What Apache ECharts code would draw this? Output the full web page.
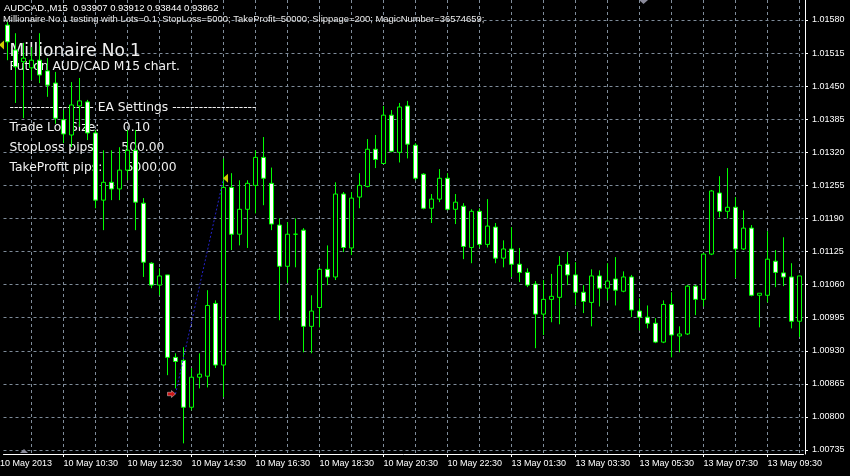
<!DOCTYPE html>
<html><head><meta charset="utf-8">
<script src="https://cdn.jsdelivr.net/npm/echarts@6/dist/echarts.min.js"></script>
<style>html,body{margin:0;padding:0;background:#000;overflow:hidden}#c{width:850px;height:476px}</style>
</head><body><div id="c"></div><script>
const categories = ['10 May 08:45','10 May 09:00','10 May 09:15','10 May 09:30','10 May 09:45','10 May 10:00','10 May 10:15','10 May 10:30','10 May 10:45','10 May 11:00','10 May 11:15','10 May 11:30','10 May 11:45','10 May 12:00','10 May 12:15','10 May 12:30','10 May 12:45','10 May 13:00','10 May 13:15','10 May 13:30','10 May 13:45','10 May 14:00','10 May 14:15','10 May 14:30','10 May 14:45','10 May 15:00','10 May 15:15','10 May 15:30','10 May 15:45','10 May 16:00','10 May 16:15','10 May 16:30','10 May 16:45','10 May 17:00','10 May 17:15','10 May 17:30','10 May 17:45','10 May 18:00','10 May 18:15','10 May 18:30','10 May 18:45','10 May 19:00','10 May 19:15','10 May 19:30','10 May 19:45','10 May 20:00','10 May 20:15','10 May 20:30','10 May 20:45','10 May 21:00','10 May 21:15','10 May 21:30','10 May 21:45','10 May 22:00','10 May 22:15','10 May 22:30','10 May 22:45','10 May 23:00','10 May 23:15','10 May 23:30','10 May 23:45','13 May 01:00','13 May 01:15','13 May 01:30','13 May 01:45','13 May 02:00','13 May 02:15','13 May 02:30','13 May 02:45','13 May 03:00','13 May 03:15','13 May 03:30','13 May 03:45','13 May 04:00','13 May 04:15','13 May 04:30','13 May 04:45','13 May 05:00','13 May 05:15','13 May 05:30','13 May 05:45','13 May 06:00','13 May 06:15','13 May 06:30','13 May 06:45','13 May 07:00','13 May 07:15','13 May 07:30','13 May 07:45','13 May 08:00','13 May 08:15','13 May 08:30','13 May 08:45','13 May 09:00','13 May 09:15','13 May 09:30','13 May 09:45','13 May 10:00','13 May 10:15','13 May 10:30'];

// [open, close, low, high]
const candles = [
[1.01570,1.01537,1.01501,1.01576],[1.01521,1.01488,1.01417,1.01554],[1.01498,1.01505,1.01387,1.01535],[1.01486,1.01501,1.01462,1.01527],
[1.01501,1.01472,1.01456,1.01554],[1.01480,1.01452,1.01429,1.01505],[1.01456,1.01387,1.01376,1.01478],[1.01384,1.01356,1.01338,1.01403],
[1.01354,1.01413,1.01330,1.01458],[1.01411,1.01421,1.01370,1.01466],[1.01419,1.01358,1.01344,1.01423],[1.01358,1.01226,1.01210,1.01364],
[1.01226,1.01261,1.01167,1.01324],[1.01261,1.01248,1.01226,1.01324],[1.01248,1.01285,1.01226,1.01330],[1.01285,1.01324,1.01265,1.01364],
[1.01324,1.01222,1.01167,1.01364],[1.01220,1.01104,1.01075,1.01230],[1.01102,1.01059,1.01053,1.01104],[1.01059,1.01077,1.01039,1.01092],
[1.01079,1.00917,1.00882,1.01079],[1.00917,1.00909,1.00856,1.00925],[1.00911,1.00819,1.00748,1.00937],[1.00819,1.00878,1.00813,1.00896],
[1.00878,1.00884,1.00856,1.00925],[1.00880,1.01019,1.00858,1.01049],[1.01023,1.00902,1.00896,1.01029],[1.00902,1.01251,1.00839,1.01308],
[1.01251,1.01159,1.01128,1.01279],[1.01159,1.01208,1.01137,1.01265],[1.01208,1.01259,1.01132,1.01265],[1.01255,1.01310,1.01200,1.01324],
[1.01310,1.01269,1.01216,1.01350],[1.01259,1.01179,1.01167,1.01290],[1.01177,1.01096,1.00990,1.01190],[1.01096,1.01159,1.01063,1.01183],
[1.01159,1.01159,1.01094,1.01190],[1.01167,1.00978,1.00927,1.01171],[1.00978,1.01008,1.00925,1.01039],[1.01015,1.01090,1.00976,1.01094],
[1.01090,1.01075,1.01059,1.01137],[1.01075,1.01238,1.01069,1.01261],[1.01238,1.01133,1.01124,1.01242],[1.01132,1.01230,1.01118,1.01242],
[1.01232,1.01255,1.01210,1.01279],[1.01253,1.01326,1.01251,1.01346],[1.01326,1.01306,1.01289,1.01354],[1.01298,1.01393,1.01298,1.01411],
[1.01393,1.01322,1.01320,1.01403],[1.01320,1.01409,1.01300,1.01417],[1.01411,1.01336,1.01308,1.01421],[1.01334,1.01269,1.01265,1.01338],
[1.01277,1.01210,1.01208,1.01279],[1.01210,1.01228,1.01181,1.01238],[1.01228,1.01269,1.01222,1.01287],[1.01269,1.01208,1.01206,1.01279],
[1.01208,1.01222,1.01179,1.01238],[1.01214,1.01135,1.01110,1.01220],[1.01133,1.01204,1.01102,1.01208],[1.01204,1.01139,1.01133,1.01210],
[1.01139,1.01175,1.01133,1.01228],[1.01173,1.01112,1.01102,1.01181],[1.01112,1.01130,1.01094,1.01147],[1.01130,1.01100,1.01075,1.01173],
[1.01100,1.01084,1.01065,1.01132],[1.01084,1.01059,1.01055,1.01092],[1.01061,1.01002,1.00935,1.01067],[1.01002,1.01031,1.00961,1.01069],
[1.01031,1.01037,1.00986,1.01081],[1.01035,1.01098,1.00982,1.01116],[1.01100,1.01079,1.01059,1.01124],[1.01079,1.01045,1.01019,1.01104],
[1.01045,1.01027,1.01004,1.01059],[1.01025,1.01077,1.00978,1.01090],[1.01077,1.01053,1.01017,1.01088],[1.01053,1.01067,1.01029,1.01102],
[1.01071,1.01049,1.01019,1.01114],[1.01047,1.01075,1.01045,1.01086],[1.01075,1.01010,1.00996,1.01079],[1.01008,1.00996,1.00970,1.01033],
[1.00996,1.00984,1.00974,1.01019],[1.00984,1.00947,1.00945,1.00994],[1.00947,1.01021,1.00945,1.01029],[1.01021,1.00961,1.00917,1.01045],
[1.00959,1.00963,1.00927,1.00978],[1.00963,1.01057,1.00961,1.01059],[1.01057,1.01031,1.01000,1.01059],[1.01031,1.01120,1.01017,1.01122],
[1.01120,1.01244,1.01118,1.01246],[1.01240,1.01204,1.01192,1.01273],[1.01204,1.01212,1.01190,1.01289],[1.01212,1.01130,1.01073,1.01232],
[1.01130,1.01171,1.01128,1.01206],[1.01171,1.01039,1.01037,1.01177],[1.01039,1.01043,1.00976,1.01043],[1.01039,1.01110,1.01025,1.01165],
[1.01106,1.01084,1.01055,1.01128],[1.01083,1.01075,1.01057,1.01153],[1.01075,1.00988,1.00974,1.01102],[1.00988,1.01077,1.00957,1.01077]
];

const priceTicks = [1.00735,1.00800,1.00865,1.00930,1.00995,1.01060,1.01125,1.01190,1.01255,1.01320,1.01385,1.01450,1.01515,1.01580];
const firstDateLabel = '10 May 2013';
const tradeLine = [[21, 1.00845], [27, 1.01269]];
const openArrows = [[21, 1.00845]];
const closeMarks = [[27, 1.01269]];
const earlierCloseMarks = [[0, 1.01531]];

const headerText = 'AUDCAD.,M15  0.93907 0.93912 0.93844 0.93862';
const eaLine = 'Millionaire No.1 testing with Lots=0.1; StopLoss=5000; TakeProfit=50000; Slippage=200; MagicNumber=36574659;';
const commentLines = [
  ['Millionaire No.1', 17],
  ['Put on AUD/CAD M15 chart.', 12.3],
  ['------------------- EA Settings -------------------', 12.3],
  ['Trade Lot Size:      0.10', 12.3],
  ['StopLoss pips:      500.00', 12.3],
  ['TakeProfit pips:      5000.00', 12.3]
];
const commentY = [52, 67, 107.5, 127.5, 147.5, 168];

const LIME = '#00ff00';
const GRID = '#7f8c9a';
const AXISFONT = 'Liberation Sans';
const TRI_LEFT = 'path://M0,5L6,0L6,10Z';

const chart = echarts.init(document.getElementById('c'), null, {renderer: 'canvas'});

const graphics = [
  {type:'text', x:4, y:8, z:5, style:{text: headerText, fill:'#ffffff', fontSize:9.5, fontFamily:AXISFONT, verticalAlign:'middle'}},
  {type:'text', x:3, y:19.5, z:5, style:{text: eaLine, fill:'#e8e8e8', fontSize:9.45, fontFamily:AXISFONT, verticalAlign:'middle'}},
  {type:'text', x:0, y:464, z:5, style:{text: firstDateLabel, fill:'#ffffff', fontSize:9, fontFamily:AXISFONT, verticalAlign:'middle'}},
  {type:'polygon', z:5, shape:{points:[[20,453],[28,453],[24,449]]}, style:{fill:'#8a8a9a'}},
  {type:'polygon', z:5, shape:{points:[[639,0],[648,0],[643.5,4]]}, style:{fill:'#8a8a9a'}}
];
commentLines.forEach((c, i) => {
  graphics.push({type:'text', x:9.5, y:commentY[i], z:1, style:{text:c[0], fill:'#f0f0f0', fontSize:c[1], fontFamily:'DejaVu Sans', verticalAlign:'middle'}});
});

const option = {
  backgroundColor: '#000000',
  animation: false,
  grid: {left: 3.5, right: 46.5, top: 0, bottom: 22},
  xAxis: {
    type: 'category', data: categories, boundaryGap: true,
    axisLine: {show: true, lineStyle: {color: '#ffffff', width: 1}},
    axisTick: {show: true, alignWithLabel: true, interval: (i) => i % 8 === 7, length: 3, lineStyle: {color: '#ffffff'}},
    axisLabel: {interval: (i) => i % 8 === 7, align: 'left', color: '#ffffff', fontFamily: AXISFONT, fontSize: 9, margin: 5},
    splitLine: {show: true, alignWithLabel: true, interval: (i) => i % 4 === 3, lineStyle: {color: GRID, type: [3, 3], width: 1}}
  },
  yAxis: {
    type: 'value', position: 'right', min: 1.007271, max: 1.016193, offset: 1.5,
    axisLine: {show: true, lineStyle: {color: '#ffffff', width: 1}},
    axisTick: {show: true, length: 3, customValues: priceTicks, lineStyle: {color: '#ffffff'}},
    axisLabel: {customValues: priceTicks, color: '#ffffff', fontFamily: AXISFONT, fontSize: 9, margin: 7, formatter: (v) => v.toFixed(5)},
    splitLine: {show: true, lineStyle: {color: GRID, type: [3, 3], width: 1}}
  },
  graphic: {elements: graphics},
  series: [
    {
      type: 'candlestick', data: candles, barWidth: 4, silent: true, z: 2,
      itemStyle: {color: '#000000', color0: '#ffffff', borderColor: LIME, borderColor0: LIME, borderColorDoji: LIME, borderWidth: 1},
      emphasis: {disabled: true}
    },
    {
      type: 'line', data: tradeLine, symbol: 'none', silent: true, z: 3,
      lineStyle: {color: '#2323c8', width: 1, type: [2, 2]}
    },
    {
      type: 'scatter', data: openArrows, silent: true, z: 4,
      symbol: 'path://M0,2L4,2L4,0L8,4L4,8L4,6L0,6Z', symbolSize: [8, 7], symbolOffset: [-4, 0],
      itemStyle: {color: '#ff1a1a', borderColor: '#ffffff', borderWidth: 0.5}
    },
    {
      type: 'scatter', data: closeMarks, silent: true, z: 4,
      symbol: TRI_LEFT, symbolSize: [5, 9], symbolOffset: [2, 0],
      itemStyle: {color: '#ffff00'}
    },
    {
      type: 'scatter', data: earlierCloseMarks, silent: true, z: 4,
      symbol: TRI_LEFT, symbolSize: [5, 9], symbolOffset: [-6, 0],
      itemStyle: {color: '#ffff00'}
    }
  ]
};
chart.setOption(option);
</script></body></html>
